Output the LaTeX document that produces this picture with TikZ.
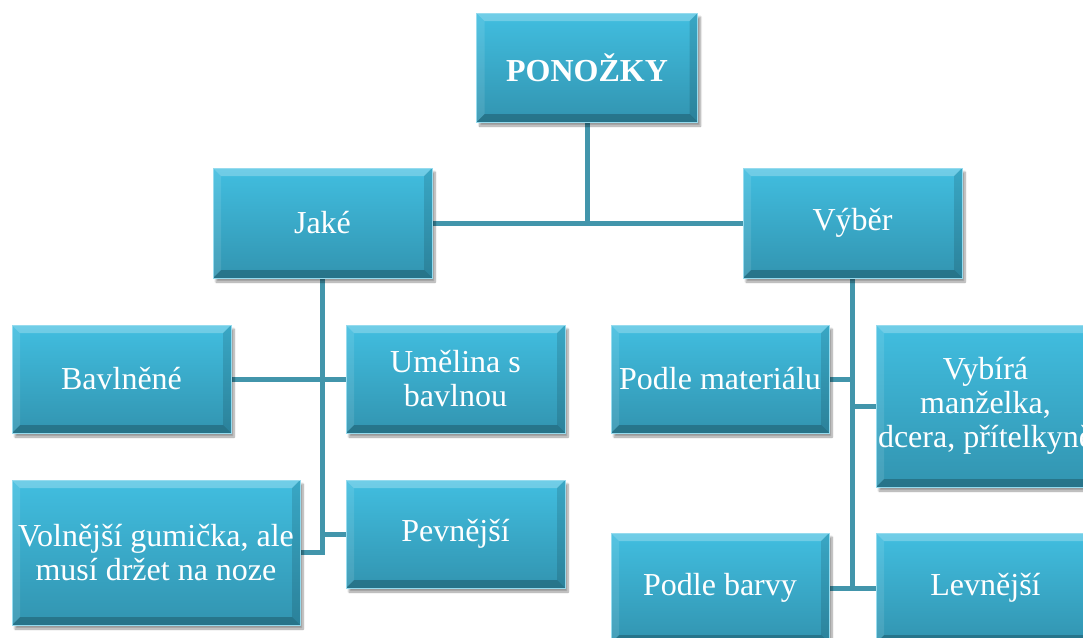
\documentclass[tikz,border=0pt]{standalone}
\usepackage{fontspec}
\setmainfont{Liberation Serif}
\usetikzlibrary{shadows.blur,backgrounds}

\definecolor{faceTop}{HTML}{41BEE0}
\definecolor{faceBot}{HTML}{3294B0}
\definecolor{linkCol}{HTML}{4295AB}

\tikzset{
  card/.style n args={2}{
    rectangle, inner sep=2pt, minimum width=#1, minimum height=#2,
    text=white, align=center, font=\fontsize{32}{34}\selectfont,
    top color=faceTop, bottom color=faceBot,
    draw=faceTop!55!white, line width=0.6pt,
    blur shadow={shadow xshift=3pt, shadow yshift=-4pt,
                 shadow blur steps=8, shadow opacity=40},
    path picture={
      \path (path picture bounding box.north west) coordinate (pNW)
            (path picture bounding box.north east) coordinate (pNE)
            (path picture bounding box.south west) coordinate (pSW)
            (path picture bounding box.south east) coordinate (pSE);
      % upper bevel
      \fill[white,opacity=.25] (pNW) -- (pNE) -- ([shift={(-8pt,-8pt)}]pNE)
           -- ([shift={(8pt,-8pt)}]pNW) -- cycle;
      % lower bevel
      \fill[black,opacity=.22] (pSW) -- (pSE) -- ([shift={(-8pt,8pt)}]pSE)
           -- ([shift={(8pt,8pt)}]pSW) -- cycle;
      % left bevel
      \fill[white,opacity=.10] (pNW) -- ([shift={(8pt,-8pt)}]pNW)
           -- ([shift={(8pt,8pt)}]pSW) -- (pSW) -- cycle;
      % right bevel
      \fill[black,opacity=.12] (pNE) -- ([shift={(-8pt,-8pt)}]pNE)
           -- ([shift={(-8pt,8pt)}]pSE) -- (pSE) -- cycle;
    }
  },
  link/.style={draw=linkCol, line width=5pt}
}

\begin{document}
\begin{tikzpicture}[x=1pt,y=-1pt]
  \useasboundingbox (0,0) rectangle (1083,637);
  \clip (0,0) rectangle (1083,637);

  % root
  \node[card={221pt}{109pt}] (top) at (587,67.5) {\textbf{PONOŽKY}};

  % second level
  \node[card={219pt}{110pt}] (jake)  at (322.5,223) {Jaké};
  \node[card={219pt}{110pt}] (vyber) at (852.5,223) {Výběr};

  % children of "Jaké"
  \node[card={219pt}{108pt}] (bavl)  at (121.5,379) {Bavlněné};
  \node[card={219pt}{108pt}] (umel)  at (455.5,379) {Umělina s\\bavlnou};
  \node[card={288pt}{145pt}] (voln)  at (156,552.5) {Volnější gumička, ale\\musí držet na noze};
  \node[card={219pt}{108pt}] (pevn)  at (455.5,534) {Pevnější};

  % children of "Výběr"
  \node[card={218pt}{108pt}] (mater) at (720,379) {Podle materiálu};
  \node[card={219pt}{162pt}] (vybira) at (985.5,406) {Vybírá\\manželka,\\dcera, přítelkyně};
  \node[card={218pt}{110pt}] (barva) at (720,588) {Podle barvy};
  \node[card={219pt}{110pt}] (levn)  at (985.5,588) {Levnější};

  \begin{scope}[on background layer]
    % root to second level
    \draw[link] (jake.east) -- (vyber.west);
    \draw[link] (top.south) -- (top.south |- jake.east);

    % "Jaké" branch
    \draw[link] (jake.south) |- (voln.east);
    \draw[link] (bavl.east) -- (umel.west);
    \draw[link] (pevn.west) -- (pevn.west -| jake.south);

    % "Výběr" branch
    \draw[link] (vyber.south) -- (vyber.south |- barva.east);
    \draw[link] (mater.east) -- (mater.east -| vyber.south);
    \draw[link] (vybira.west) -- (vybira.west -| vyber.south);
    \draw[link] (barva.east) -- (levn.west);
  \end{scope}
\end{tikzpicture}
\end{document}
